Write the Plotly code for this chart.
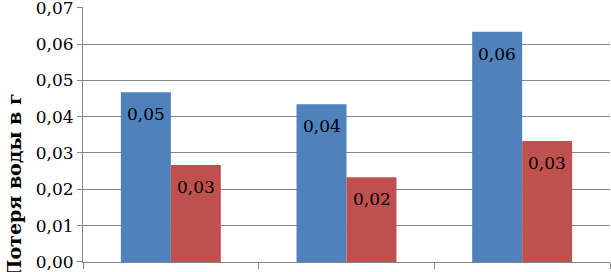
import plotly.graph_objects as go

categories = ["Группа 1", "Группа 2", "Группа 3"]
series_blue = [0.0467, 0.0434, 0.0634]
series_red = [0.0267, 0.0233, 0.0333]
labels_blue = ["0,05", "0,04", "0,06"]
labels_red = ["0,03", "0,02", "0,03"]
y_min, y_max, y_step = 0.0, 0.07, 0.01

FONT = "DejaVu Serif"
fig = go.Figure()
fig.add_trace(go.Bar(x=categories, y=series_blue, marker=dict(color="#4F81BD", line=dict(width=0)),
                     name="A"))
fig.add_trace(go.Bar(x=categories, y=series_red, marker=dict(color="#C0504D", line=dict(width=0)),
                     name="B"))

for vals, labs, shift in [(series_blue, labels_blue, -25), (series_red, labels_red, 25)]:
    for c, v, t in zip(categories, vals, labs):
        fig.add_annotation(x=c, y=v, text=t, showarrow=False, xshift=shift, yshift=-22,
                           yanchor="middle", font=dict(family=FONT, size=17, color="#000000"))

fig.add_annotation(xref="paper", yref="paper", x=0, y=0.30, xshift=-70, text="<b>Потеря воды в г</b>",
                   textangle=-90, showarrow=False, xanchor="center", yanchor="middle",
                   font=dict(family=FONT, size=19, color="#000000"))

fig.update_layout(
    width=611, height=272, margin=dict(l=83, r=1, t=7, b=10, autoexpand=False),
    paper_bgcolor="white", plot_bgcolor="white", showlegend=False,
    barmode="group", bargap=0.431, bargroupgap=0, separators=", ",
    font=dict(family=FONT, size=17, color="#000000"),
)
fig.update_xaxes(type="category", showticklabels=False, tickson="boundaries", ticks="outside", ticklen=6,
                 tickcolor="#868686", showline=True, linecolor="#868686", linewidth=1, showgrid=False)
fig.update_yaxes(range=[y_min - 0.00002, y_max + 0.0002], tickmode="linear", tick0=y_min, dtick=y_step,
                 tickformat=".2f", showgrid=True, automargin=False, ticklabeloverflow="allow",
                 gridcolor="#868686", gridwidth=1, showline=True, linecolor="#868686", ticks="outside",
                 ticklen=5, tickcolor="#868686", zeroline=False,
                 tickfont=dict(family=FONT, size=17, color="#000000"))
fig.write_html("out.html", config={"displayModeBar": False},
               post_script="document.body.style.margin='0';")
